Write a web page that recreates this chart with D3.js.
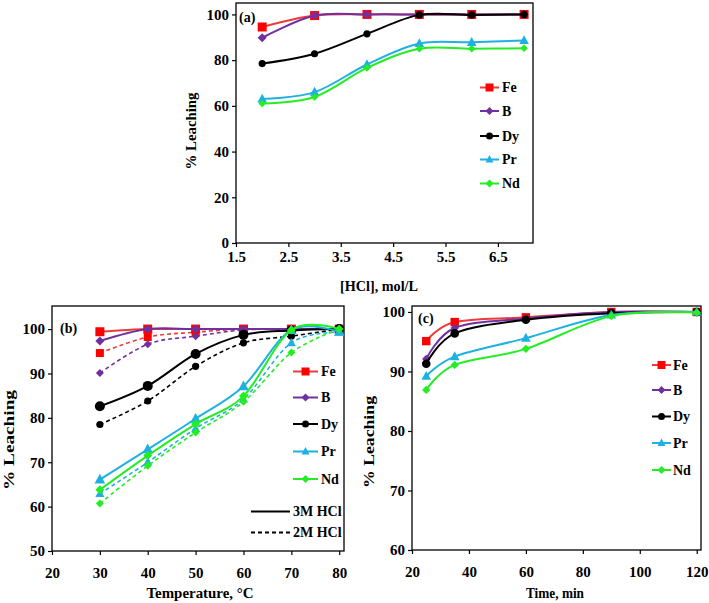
<!DOCTYPE html>
<html>
<head>
<meta charset="utf-8">
<script src="https://cdn.jsdelivr.net/npm/d3@7"></script>
<style>
  html, body { margin: 0; padding: 0; background: #fff; }
  svg { display: block; }
  text { font-family: "Liberation Serif", "Times New Roman", serif; font-weight: bold; fill: #000; }
</style>
</head>
<body>
<svg id="chart" width="709" height="603"></svg>
<script>
// ---------------- DATA ----------------
const elements = ["Fe", "B", "Dy", "Pr", "Nd"];

// (a) effect of HCl concentration
const hclConc = [2, 3, 4, 5, 6, 7];
const hclFe = [94.5, 99.5, 100, 100, 100, 100];
const hclB  = [89.8, 99.5, 100, 100, 100, 100];
const hclDy = [78.5, 82.8, 91.5, 99.8, 99.8, 100];
const hclPr = [63.0, 66.0, 78.1, 87.3, 87.8, 88.6];
const hclNd = [61.0, 63.9, 76.6, 85.0, 85.0, 85.2];
const hclTicksX = [1.5, 2.5, 3.5, 4.5, 5.5, 6.5];
const hclTicksY = [0, 20, 40, 60, 80, 100];

// (b) effect of temperature, 3M and 2M HCl
const temps = [30, 40, 50, 60, 70, 80];
const t3Fe = [99.4, 100, 100, 100, 100, 100];
const t3B  = [97.3, 100, 100, 100, 100, 100];
const t3Dy = [82.6, 87.2, 94.4, 98.7, 99.7, 100];
const t3Pr = [66.1, 72.9, 79.8, 87.1, 99.8, 99.4];
const t3Nd = [63.8, 71.5, 78.6, 84.9, 99.8, 100];
const t2Fe = [94.6, 98.2, 99.3, 100, 100, 100];
const t2B  = [90.1, 96.6, 98.4, 99.8, 100, 100];
const t2Dy = [78.5, 83.8, 91.6, 96.9, 98.4, 100];
const t2Pr = [62.9, 70.0, 77.6, 84.2, 96.9, 99.3];
const t2Nd = [60.7, 69.2, 76.7, 83.6, 94.7, 100];
const tempTicksX = [20, 30, 40, 50, 60, 70, 80];
const tempTicksY = [50, 60, 70, 80, 90, 100];

// (c) effect of time
const times = [25, 35, 60, 90, 120];
const timeFe = [95.1, 98.3, 99.1, 100, 100];
const timeB  = [92.1, 97.3, 98.9, 100, 100];
const timeDy = [91.3, 96.4, 98.7, 99.8, 100];
const timePr = [89.2, 92.5, 95.6, 99.5, 100];
const timeNd = [86.9, 91.1, 93.8, 99.3, 99.9];
const timeTicksX = [20, 40, 60, 80, 100, 120];
const timeTicksY = [60, 70, 80, 90, 100];

// ---------------- STYLE ----------------
const colors = { Fe: "#ff0000", B: "#7030a0", Dy: "#000000", Pr: "#1fb0e2", Nd: "#22ee22" };
const lineColors = { Fe: "#f03a3a", B: "#7030a0", Dy: "#000000", Pr: "#1fb0e2", Nd: "#22ee22" };
const shapes = { Fe: "square", B: "diamond", Dy: "circle", Pr: "triangle", Nd: "diamond" };

const svg = d3.select("#chart");

function markerPath(type, r) {
  if (type === "square") return `M${-r},${-r}h${2*r}v${2*r}h${-2*r}Z`;
  if (type === "diamond") return `M0,${-r}L${r},0L0,${r}L${-r},0Z`;
  if (type === "triangle") return `M0,${-r*1.1}L${r},${r*0.75}L${-r},${r*0.75}Z`;
  return d3.path().toString(); // unused
}

function drawMarker(g, type, x, y, r, color) {
  if (type === "circle") {
    g.append("circle").attr("cx", x).attr("cy", y).attr("r", r).attr("fill", color);
  } else {
    g.append("path").attr("d", markerPath(type, r))
      .attr("transform", `translate(${x},${y})`).attr("fill", color);
  }
}

function drawPanel(cfg) {
  const g = svg.append("g");
  const x = d3.scaleLinear().domain(cfg.xDomain).range([cfg.left, cfg.right]);
  const y = d3.scaleLinear().domain(cfg.yDomain).range([cfg.bottom, cfg.top]);

  // axes
  const xAxis = d3.axisBottom(x).tickValues(cfg.xTicks).tickSize(4).tickSizeOuter(0)
    .tickPadding(cfg.xPad).tickFormat(cfg.xFmt);
  const yAxis = d3.axisLeft(y).tickValues(cfg.yTicks).tickSize(4).tickSizeOuter(0)
    .tickPadding(3).tickFormat(d3.format("d"));
  const gx = g.append("g").attr("transform", `translate(0,${cfg.bottom})`).call(xAxis);
  const gy = g.append("g").attr("transform", `translate(${cfg.left},0)`).call(yAxis);
  [gx, gy].forEach(a => {
    a.select(".domain").remove();
    a.selectAll(".tick line").attr("stroke", "#000").attr("stroke-width", 1.2);
    a.selectAll("text").attr("font-family", null).attr("font-size", cfg.tickFont)
      .style("font-family", '"Liberation Serif", "Times New Roman", serif')
      .style("font-weight", "bold").attr("fill", "#000");
  });

  // plot border
  g.append("rect").attr("x", cfg.left).attr("y", cfg.top)
    .attr("width", cfg.right - cfg.left).attr("height", cfg.bottom - cfg.top)
    .attr("fill", "none").attr("stroke", "#000").attr("stroke-width", 1.3);

  // series
  const line = d3.line().curve(d3.curveCardinal.tension(0))
    .x(d => x(d[0])).y(d => y(d[1]));
  cfg.series.forEach(s => {
    const pts = cfg.xs.map((xv, i) => [xv, s.values[i]]);
    g.append("path").datum(pts).attr("d", line)
      .attr("fill", "none").attr("stroke", lineColors[s.name])
      .attr("stroke-width", s.width || 2)
      .attr("stroke-dasharray", s.dash || null);
    pts.forEach(p => drawMarker(g, shapes[s.name], x(p[0]), y(p[1]), s.r[shapes[s.name]] || 4, colors[s.name]));
  });

  // panel label
  g.append("text").attr("x", cfg.label[0]).attr("y", cfg.label[1])
    .attr("font-size", 14).text(cfg.labelText);

  // axis titles
  g.append("text").attr("x", cfg.xTitle[0]).attr("y", cfg.xTitle[1])
    .attr("text-anchor", "middle").attr("font-size", 15)
    .attr("textLength", cfg.xTitle[2]).attr("lengthAdjust", "spacingAndGlyphs")
    .text(cfg.xTitleText);
  g.append("text")
    .attr("transform", `translate(${cfg.yTitle[0]},${cfg.yTitle[1]}) rotate(-90)`)
    .attr("text-anchor", "middle").attr("font-size", 15).attr("dy", "0.35em")
    .attr("textLength", cfg.yTitle[2]).attr("lengthAdjust", "spacingAndGlyphs")
    .text("% Leaching");

  // legend
  const L = cfg.legend;
  elements.forEach((name, i) => {
    const ly = L.rows[i];
    g.append("line").attr("x1", L.x1).attr("x2", L.x2).attr("y1", ly).attr("y2", ly)
      .attr("stroke", lineColors[name]).attr("stroke-width", 2);
    drawMarker(g, shapes[name], (L.x1 + L.x2) / 2, ly, shapes[name] === "circle" ? 3.5 : 4, colors[name]);
    g.append("text").attr("x", L.tx).attr("y", ly).attr("dy", "0.35em")
      .attr("font-size", 14).text(name);
  });
  if (L.extra) {
    L.extra.forEach(e => {
      g.append("line").attr("x1", e.x1).attr("x2", e.x2).attr("y1", e.y).attr("y2", e.y)
        .attr("stroke", "#000").attr("stroke-width", 2).attr("stroke-dasharray", e.dash || null);
      g.append("text").attr("x", e.tx).attr("y", e.y).attr("dy", "0.35em")
        .attr("font-size", 14).text(e.text);
    });
  }
}

const rA = { square: 4.5, diamond: 4.5, circle: 3.6, triangle: 4.8 };
const rANd = { diamond: 3.8 };
drawPanel({
  left: 236, right: 533, top: 3, bottom: 243,
  xDomain: [1.5, 7.17], yDomain: [0, 105],
  xTicks: hclTicksX, yTicks: hclTicksY, xFmt: d3.format(".1f"), xPad: 4, tickFont: 15,
  xs: hclConc,
  series: [
    { name: "Fe", values: hclFe, r: rA },
    { name: "B", values: hclB, r: rA },
    { name: "Dy", values: hclDy, r: rA },
    { name: "Pr", values: hclPr, r: rA },
    { name: "Nd", values: hclNd, r: rANd }
  ],
  label: [239, 22], labelText: "(a)",
  xTitle: [379, 291, 78], xTitleText: "[HCl], mol/L",
  yTitle: [191, 131, 77],
  legend: { x1: 480, x2: 499, tx: 502, rows: [87.5, 111, 136, 159.5, 183.5] }
});

const rB3 = { square: 4.5, diamond: 4.5, circle: 5, triangle: 5.3 };
const rB2 = { square: 4, diamond: 4, circle: 3.6, triangle: 4.5 };
drawPanel({
  left: 52, right: 344, top: 306, bottom: 551,
  xDomain: [20, 81], yDomain: [50, 105.2],
  xTicks: tempTicksX, yTicks: tempTicksY, xFmt: d3.format("d"), xPad: 12, tickFont: 15,
  xs: temps,
  series: [
    { name: "Fe", values: t2Fe, r: rB2, dash: "4,3", width: 1.6 },
    { name: "B", values: t2B, r: rB2, dash: "4,3", width: 1.6 },
    { name: "Dy", values: t2Dy, r: rB2, dash: "4,3", width: 1.6 },
    { name: "Pr", values: t2Pr, r: rB2, dash: "4,3", width: 1.6 },
    { name: "Nd", values: t2Nd, r: rB2, dash: "4,3", width: 1.6 },
    { name: "Fe", values: t3Fe, r: rB3 },
    { name: "B", values: t3B, r: rB3 },
    { name: "Dy", values: t3Dy, r: rB3 },
    { name: "Pr", values: t3Pr, r: rB3 },
    { name: "Nd", values: t3Nd, r: rB3 }
  ],
  label: [60, 333], labelText: "(b)",
  xTitle: [200, 598, 107], xTitleText: "Temperature, °C",
  yTitle: [9, 440, 100],
  legend: { x1: 293, x2: 318, tx: 321, rows: [371.5, 397.5, 424, 451.5, 479],
    extra: [
      { x1: 251, x2: 290, tx: 293, y: 511.5, text: "3M HCl" },
      { x1: 251, x2: 290, tx: 293, y: 532.5, text: "2M HCl", dash: "4,3" }
    ] }
});

const rC = { square: 4.2, diamond: 4.2, circle: 4.3, triangle: 4.8 };
drawPanel({
  left: 412, right: 701, top: 306, bottom: 550,
  xDomain: [20, 121.5], yDomain: [60, 101],
  xTicks: timeTicksX, yTicks: timeTicksY, xFmt: d3.format("d"), xPad: 12, tickFont: 15,
  xs: times,
  series: [
    { name: "Fe", values: timeFe, r: rC },
    { name: "B", values: timeB, r: rC },
    { name: "Dy", values: timeDy, r: rC },
    { name: "Pr", values: timePr, r: rC },
    { name: "Nd", values: timeNd, r: rC }
  ],
  label: [418, 323], labelText: "(c)",
  xTitle: [555, 598, 58], xTitleText: "Time, min",
  yTitle: [369, 442, 92],
  legend: { x1: 652, x2: 671, tx: 673, rows: [365, 390, 416.5, 443, 470] }
});
</script>
</body>
</html>
